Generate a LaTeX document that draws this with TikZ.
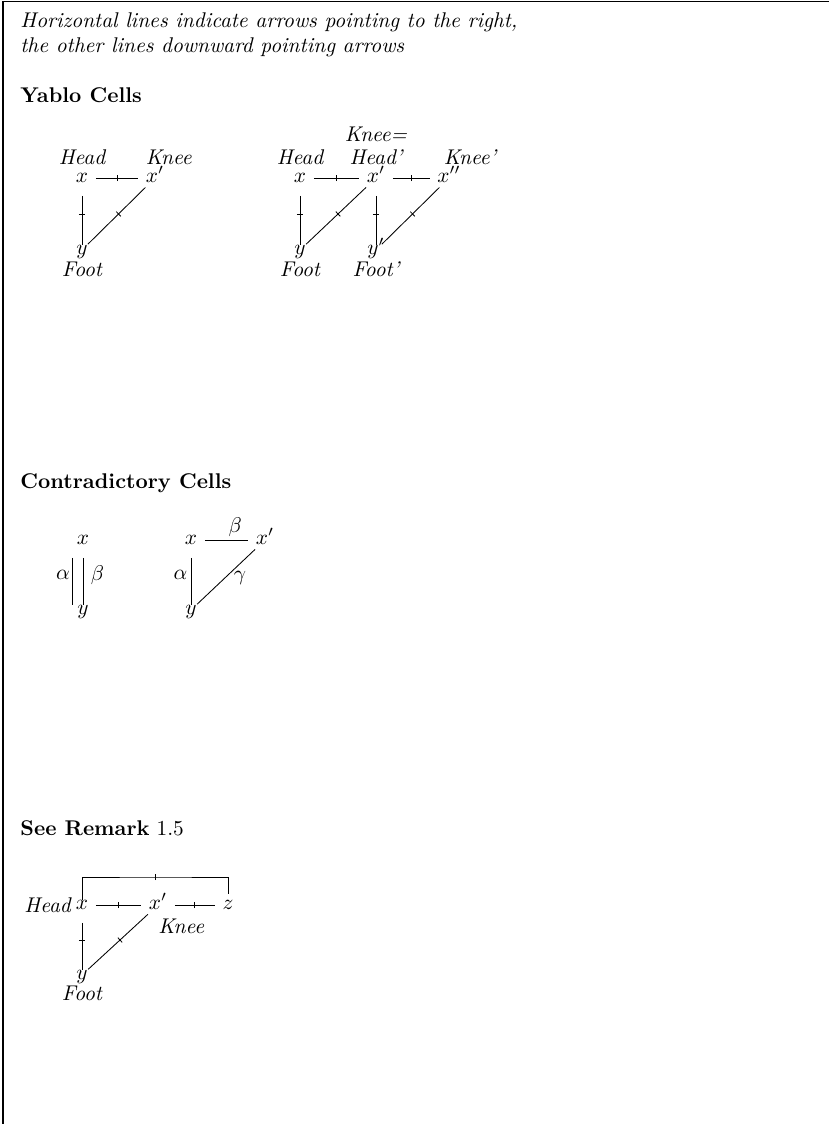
\documentclass[tikz,border=0pt]{standalone}
\usetikzlibrary{positioning,decorations.markings}
\tikzset{
  %% objects and labels
  obj/.style={inner sep=0pt,text height=4.3pt,text depth=0pt},
  lbl/.style={inner sep=0pt,font=\itshape},
  mlbl/.style={inner sep=1.5pt},
  head/.style={anchor=base west,inner sep=0pt},
  %% connectors
  hline/.style={shorten <=3.5pt,shorten >=3.5pt},
  vline/.style={shorten <=6pt},
  dline/.style={shorten <=3pt,shorten >=0.5pt},
  tickline/.style={postaction={decorate},
    decoration={markings,mark=at position 0.5 with
      {\draw[shorten <=0pt,shorten >=0pt] (0,-1.5pt) -- (0,1.5pt);}}},
  frame/.style={line width=0.6pt},
}
\begin{document}
\begin{tikzpicture}[x=0.4695pt,y=-0.4695pt]
  \useasboundingbox (0,0) rectangle (829,1124);
  \draw[frame] (829,1.5) -- (3,1.5) -- (3,1124);

  %% notes and headings
  \node[head,font=\itshape] (note1) at (20,28)
    {Horizontal lines indicate arrows pointing to the right,};
  \node[head,font=\itshape] (note2) at (20,53)
    {the other lines downward pointing arrows};
  \node[head,font=\bfseries] (sec1) at (20,103) {Yablo Cells};
  \node[head,font=\bfseries] (sec2) at (20,488) {Contradictory Cells};
  \node[head] (sec3) at (20,835) {\textbf{See Remark} $1.5$};

  %% Yablo cell
  \node[obj] (d1x)  at (82,178)  {$x$};
  \node[obj] (d1xp) at (155,178) {$x'$};
  \node[obj] (d1y)  at (82,250)  {$y$};
  \node[lbl, above=3.9pt of d1x] (d1head) {Head};
  \node[lbl, above right=3.9pt and 0pt of d1xp.north west] (d1knee) {Knee};
  \node[lbl, below=3pt of d1y] (d1foot) {Foot};
  \draw[hline,tickline] (d1x)  -- (d1xp);
  \draw[vline,tickline] (d1x)  -- (d1y);
  \draw[dline,tickline] (d1xp) -- (d1y);

  %% two Yablo cells
  \node[obj] (d2x)   at (300,178) {$x$};
  \node[obj] (d2xp)  at (376,178) {$x'$};
  \node[obj] (d2xpp) at (449,178) {$x''$};
  \node[obj] (d2y)   at (300,250) {$y$};
  \node[obj] (d2yp)  at (376,250) {$y'$};
  \node[lbl, above=3.9pt of d2x]  (d2head)  {Head};
  \node[lbl, above=3.9pt of d2xp] (d2headp) {Head'};
  \node[lbl, above=3pt of d2headp] (d2knee) {Knee=};
  \node[lbl, above right=3.9pt and 3pt of d2xpp.north west] (d2kneep) {Knee'};
  \node[lbl, below=3pt of d2y]  (d2foot)  {Foot};
  \node[lbl, below=3pt of d2yp] (d2footp) {Foot'};
  \draw[hline,tickline] (d2x)   -- (d2xp);
  \draw[hline,tickline] (d2xp)  -- (d2xpp);
  \draw[vline,tickline] (d2x)   -- (d2y);
  \draw[vline,tickline] (d2xp)  -- (d2yp);
  \draw[dline,tickline] (d2xp)  -- (d2y);
  \draw[dline,tickline] (d2xpp) -- (d2yp);

  %% contradictory cells
  \node[obj] (d3x) at (83,540) {$x$};
  \node[obj] (d3y) at (83,610) {$y$};
  \draw[vline] ([xshift=-5pt]d3x.south) --
    node[mlbl,left=-0.5pt] (d3a) {$\alpha$} ([xshift=-5pt]d3y.north);
  \draw[vline] (d3x) -- node[mlbl,right=2pt] (d3b) {$\beta$} (d3y);

  \node[obj] (d4x)  at (191,540) {$x$};
  \node[obj] (d4xp) at (265,540) {$x'$};
  \node[obj] (d4y)  at (191,610) {$y$};
  \draw[hline] (d4x)  -- node[mlbl,above=0pt,pos=0.65] (d4b) {$\beta$} (d4xp);
  \draw[vline] (d4x)  -- node[mlbl,left] (d4a) {$\alpha$} (d4y);
  \draw[dline] (d4xp) -- node[mlbl,right=2.5pt,pos=0.55] (d4g) {$\gamma$} (d4y);

  %% remark
  \node[obj] (d5x)  at (82,905)  {$x$};
  \node[obj] (d5xp) at (158,905) {$x'$};
  \node[obj] (d5z)  at (228,905) {$z$};
  \node[obj] (d5y)  at (82,975)  {$y$};
  \node[lbl, left=2pt of d5x] (d5head) {Head};
  \node[lbl, below right=3.9pt and 0pt of d5xp.south] (d5knee) {Knee};
  \node[lbl, below=2.5pt of d5y] (d5foot) {Foot};
  \coordinate (d5top) at (156,877);
  \draw[hline,tickline] (d5x)  -- (d5xp);
  \draw[hline,tickline] (d5xp) -- (d5z);
  \draw[vline,tickline] (d5x)  -- (d5y);
  \draw[dline,tickline] (d5xp) -- (d5y);
  \draw[tickline,shorten >=3pt] (d5x.north) |- (d5top) -| (d5z.north);
\end{tikzpicture}
\end{document}
